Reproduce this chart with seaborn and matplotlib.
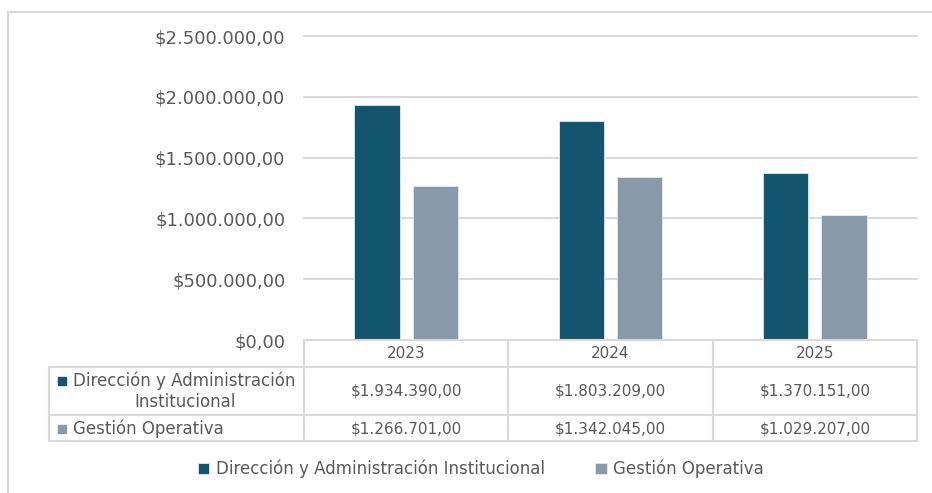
import matplotlib
matplotlib.use("Agg")
import matplotlib.pyplot as plt
import matplotlib.transforms as mtransforms
from matplotlib.lines import Line2D
from matplotlib.patches import Rectangle
import seaborn as sns
import pandas as pd

years = ["2023", "2024", "2025"]
series_names = ["Dirección y Administración Institucional", "Gestión Operativa"]
row_labels = ["Dirección y Administración\nInstitucional", "Gestión Operativa"]
direccion = [1934390.00, 1803209.00, 1370151.00]
gestion = [1266701.00, 1342045.00, 1029207.00]
y_ticks = [0, 500000, 1000000, 1500000, 2000000, 2500000]

colors = ["#13546F", "#8899AA"]
text_color = "#595959"
line_color = "#D9D9D9"

sns.set_theme(style="white")
plt.rcParams["font.family"] = ["DejaVu Sans"]


def money(v):
    s = f"{v:,.2f}"
    s = s.replace(",", "X").replace(".", ",").replace("X", ".")
    return "$" + s


df = pd.DataFrame({
    "Año": years * 2,
    "Serie": [series_names[0]] * 3 + [series_names[1]] * 3,
    "Valor": direccion + gestion,
})

W, H = 932, 493
fig = plt.figure(figsize=(W / 100, H / 100), dpi=100)
ax = fig.add_axes([304 / W, 1 - 340 / H, (917 - 304) / W, (340 - 36) / H])

sns.barplot(data=df, x="Año", y="Valor", hue="Serie", palette=colors,
            width=0.57, gap=0.22, ax=ax, saturation=1, legend=True,
            edgecolor="#E4EAEF", linewidth=0.6)

ax.set_ylim(0, 2500000)
ax.set_xlim(-0.5, 2.5)
ax.set_yticks(y_ticks)
ax.set_yticklabels([money(t) for t in y_ticks], color=text_color, fontsize=13)
ax.tick_params(axis="y", length=0, pad=13.5)
ax.set_xticks([])
ax.set_xlabel("")
ax.set_ylabel("")
ax.grid(axis="y", color=line_color, linewidth=1.5)
for gl in ax.get_ygridlines():
    gl.set_clip_on(False)
ax.set_axisbelow(True)
for s in ax.spines.values():
    s.set_visible(False)

handles, labels = ax.get_legend_handles_labels()
ax.get_legend().remove()


# data table under the axes: x follows the category scale, y in figure pixels
def fy(py):
    return 1 - py / H


tr = mtransforms.blended_transform_factory(ax.transData, fig.transFigure)
trf = fig.transFigure
left_edge = 49 / W
right_edge = 917 / W

for xb in [-0.5, 0.5, 1.5, 2.5]:
    fig.add_artist(Line2D([xb, xb], [fy(340), fy(441)], transform=tr,
                          color=line_color, lw=1.5))
fig.add_artist(Line2D([-0.5, 2.5], [fy(340), fy(340)], transform=tr,
                      color=line_color, lw=1.5))
for py in [367, 415, 441]:
    fig.add_artist(Line2D([left_edge, right_edge], [fy(py), fy(py)],
                          transform=trf, color=line_color, lw=1.5))
fig.add_artist(Line2D([left_edge, left_edge], [fy(367), fy(441)],
                      transform=trf, color=line_color, lw=1.5))

for i, yr in enumerate(years):
    fig.text(i, fy(354), yr, transform=tr, ha="center", va="center",
             color=text_color, fontsize=11)
    fig.text(i, fy(391), money(direccion[i]), transform=tr, ha="center",
             va="center", color=text_color, fontsize=11)
    fig.text(i, fy(429), money(gestion[i]), transform=tr, ha="center",
             va="center", color=text_color, fontsize=11)

# row headers with legend keys
sq = 8
for py, c in [(381, colors[0]), (429, colors[1])]:
    fig.add_artist(Rectangle((58 / W, fy(py + sq / 2)), sq / W, sq / H,
                             transform=trf, color=c))
fig.text(73 / W, fy(381), "Dirección y Administración", ha="left", va="center",
         color=text_color, fontsize=12)
fig.text(185 / W, fy(402), "Institucional", ha="center", va="center",
         color=text_color, fontsize=12)
fig.text(73 / W, fy(429), row_labels[1], ha="left", va="center",
         color=text_color, fontsize=12)

fig.legend(handles, labels, loc="center", bbox_to_anchor=(481 / W, fy(469)),
           ncol=2, frameon=False, handlelength=0.7, handleheight=0.7,
           handletextpad=0.4, columnspacing=3.0, labelcolor=text_color,
           fontsize=12)

# chart frame
fig.add_artist(Line2D([8 / W, 8 / W], [fy(12), 0], transform=trf,
                      color=line_color, lw=1.5))
fig.add_artist(Line2D([8 / W, 1], [fy(12), fy(12)], transform=trf,
                      color=line_color, lw=1.5))

fig.savefig("out.png", dpi=100, facecolor="white")
